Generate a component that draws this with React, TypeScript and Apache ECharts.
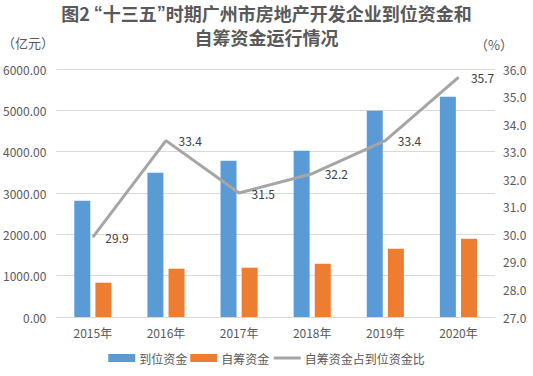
import React, { useEffect, useRef } from "react";
import * as echarts from "echarts";

const categories = ["2015年", "2016年", "2017年", "2018年", "2019年", "2020年"];
const fundsInPlace = [2815, 3490, 3782, 4024, 4992, 5331];
const selfRaised = [830, 1169, 1193, 1290, 1653, 1895];
const ratio = [29.9, 33.4, 31.5, 32.2, 33.4, 35.7];

const FONT = "'Noto Sans CJK SC', 'Noto Sans', sans-serif";
const TXT = "#595959";

export default function App() {
  const ref = useRef<HTMLDivElement>(null);
  useEffect(() => {
    if (!ref.current) return;
    const chart = echarts.init(ref.current, null, { renderer: "svg" });
    chart.setOption({
      animation: false,
      backgroundColor: "#ffffff",
      textStyle: { fontFamily: FONT },
      title: {
        text: "图2 {q|“}十三五{q|”}时期广州市房地产开发企业到位资金和\n自筹资金运行情况",
        left: "center",
        top: -4,
        textStyle: {
          fontSize: 18,
          fontWeight: "bold",
          color: TXT,
          lineHeight: 24,
          fontFamily: FONT,
          rich: {
            q: { fontSize: 18, fontWeight: "bold", color: TXT, fontFamily: "'Liberation Sans', sans-serif", lineHeight: 24 },
          },
        },
      },
      graphic: [
        { type: "text", left: 2, top: 36, style: { text: "（亿元）", fontSize: 13, fill: TXT, fontFamily: FONT } },
        { type: "text", left: 475, top: 38, style: { text: "（%）", fontSize: 13, fill: TXT, fontFamily: FONT } },
      ],
      legend: {
        bottom: 7,
        left: "center",
        itemWidth: 27,
        itemHeight: 8,
        itemGap: 3,
        textStyle: { fontSize: 12, color: TXT, fontFamily: FONT, padding: [0, 0, 0, -1] },
        data: [
          { name: "到位资金", icon: "rect" },
          { name: "自筹资金", icon: "rect" },
          { name: "自筹资金占到位资金比", itemStyle: { opacity: 0 }, lineStyle: { color: "#A5A5A5", width: 3 } },
        ],
      },
      grid: { left: 55, right: 38, top: 69, bottom: 59, containLabel: false },
      xAxis: {
        type: "category",
        data: categories,
        axisLine: { lineStyle: { color: "#D9D9D9" } },
        axisTick: { show: false },
        axisLabel: { color: TXT, fontSize: 12, margin: 9, fontFamily: FONT },
      },
      yAxis: [
        {
          type: "value",
          min: 0,
          max: 6000,
          interval: 1000,
          axisLine: { show: false },
          axisTick: { show: false },
          splitLine: { lineStyle: { color: "#D9D9D9" } },
          axisLabel: { color: TXT, fontSize: 12, margin: 10, formatter: (v: number) => v.toFixed(2), fontFamily: FONT },
        },
        {
          type: "value",
          min: 27,
          max: 36,
          interval: 1,
          axisLine: { show: false },
          axisTick: { show: false },
          splitLine: { show: false },
          axisLabel: { color: TXT, fontSize: 12, margin: 8, formatter: (v: number) => v.toFixed(1), fontFamily: FONT },
        },
      ],
      series: [
        {
          name: "到位资金",
          type: "bar",
          data: fundsInPlace,
          barWidth: 16,
          barGap: "32%",
          itemStyle: { color: "#5B9BD5" },
        },
        {
          name: "自筹资金",
          type: "bar",
          data: selfRaised,
          barWidth: 16,
          itemStyle: { color: "#ED7D31" },
        },
        {
          name: "自筹资金占到位资金比",
          type: "line",
          yAxisIndex: 1,
          data: ratio,
          symbol: "circle",
          symbolSize: 1,
          showSymbol: true,
          itemStyle: { color: "#A5A5A5" },
          lineStyle: { color: "#A5A5A5", width: 3 },
          label: {
            show: true,
            position: "right",
            distance: 12,
            color: "#404040",
            fontSize: 12,
            fontFamily: FONT,
            formatter: (p: any) => Number(p.value).toFixed(1),
          },
        },
      ],
    });
    return () => chart.dispose();
  }, []);
  return <div ref={ref} style={{ width: 533, height: 376, position: "absolute", left: 0, top: 0 }} />;
}
